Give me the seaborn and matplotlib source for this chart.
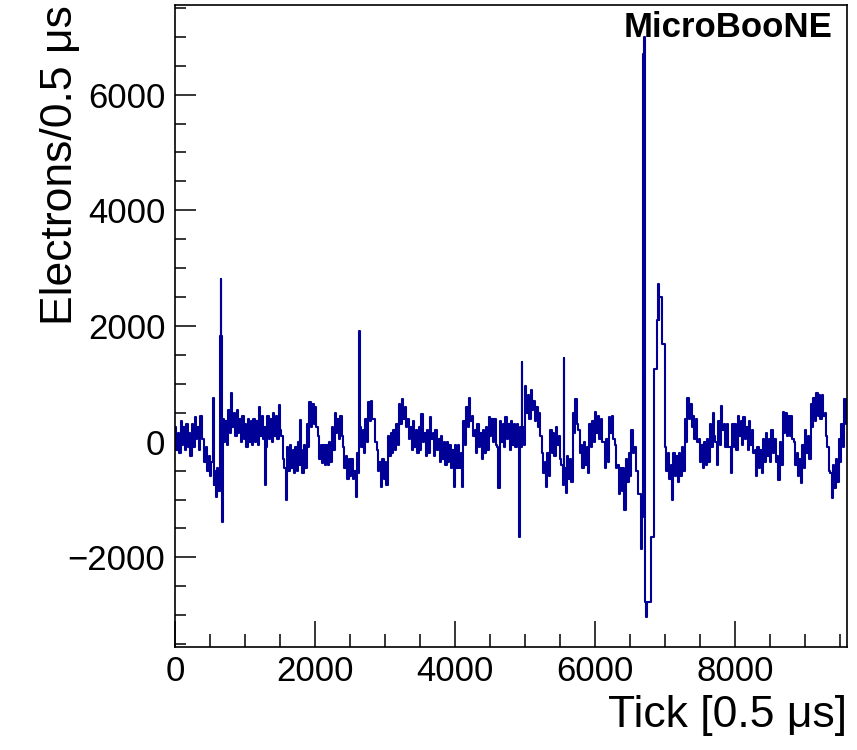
import numpy as np
import pandas as pd
import matplotlib
matplotlib.use("Agg")
import matplotlib.pyplot as plt
import seaborn as sns
from matplotlib.ticker import MultipleLocator

# waveform: one value per 20-tick bin (20 bins per row = 400 ticks)
BIN = 20
electrons = [
    250, -150, 150, -200, 350, -50, 250, -150, 300, -100, 150, -250, 300, -100, 430, 50, 250, -150, 440, 50,                      # 0-400
    50, -350, -100, -500, -250, -600, -350, -750, -500, -950, -450, -850, 1830, 1830, 400, 0, 350, -50, 550, 150,                 # 400-800
    850, 250, 500, 100, 550, 150, 400, 0, 450, 50, 300, -100, 400, 0, 350, -50, 400, 0, 350, -50,                                 # 800-1200
    600, 100, 450, 50, 250, -100, 450, 50, 400, 0, 500, 100, 450, 50, 640, 200, 100, -300, -450, -1000,                           # 1200-1600
    -100, -500, -50, -450, -150, -550, -100, -500, 0, -400, -150, -550, -50, -450, 300, -100, 680, 250, 650, 300,                 # 1600-2000
    600, 250, 100, -300, -50, -370, -50, -400, -50, -400, 0, -350, 250, -150, 500, 150, 400, 50, 450, 100,                        # 2000-2400
    -100, -450, -250, -650, -300, -600, -300, -650, -500, -950, -200, -550, 250, -100, 200, -200, 400, 0, 680, 350,               # 2400-2800
    700, 400, 400, 0, -150, -500, -350, -780, -300, -650, -350, -750, 100, -250, 150, -190, 200, -150, 300, -50,                  # 2800-3200
    650, 300, 730, 400, 600, 250, 400, 50, 250, -150, 350, -100, 200, -200, 250, -150, 470, 0, 150, -250,                         # 3200-3600
    200, -200, 420, 50, 150, -250, 200, -150, 50, -350, 100, -300, 0, -400, 0, -350, -50, -450, -150, -780,                       # 3600-4000
    -50, -450, -50, -450, -200, -780, 350, -50, 600, 250, 760, 350, 450, 100, 200, -200, 300, -100, 150, -300,                    # 4000-4400
    200, -200, 250, -150, 430, 100, 400, 0, 400, -50, -100, -800, 350, 0, 300, -100, 430, 50, 300, -140,                          # 4400-4800
    350, -50, 300, -100, 300, -50, 250, -100, 250, -50, 960, 500, 800, 400, 900, 550, 700, 350, 600, 250,                         # 4800-5200
    500, 100, -200, -550, -350, -780, -200, -600, 200, -200, 150, -250, 250, -50, 100, -300, -400, -750, -450, -890,              # 5200-5600
    -250, -650, -300, -700, 500, 150, 730, 300, 200, -200, -50, -450, 0, -400, -100, -540, 300, -100, 350, 0,                     # 5600-6000
    520, 150, 450, 50, 400, 0, 0, -450, 50, -350, 430, 150, 450, 50, -50, -450, -400, -900, -450, -850,                           # 6000-6400
    -450, -1180, -300, -700, -200, -600, 200, -200, -100, -500, -500, -900, -900, -1300, 6700, 6700, -2780, -2780, -2780, -2780,  # 6400-6800
    -1650, -1650, 1250, 1250, 2100, 2100, 2500, 2500, 1690, 1690, -100, -500, -200, -650, -400, -1000, -200, -600, -250, -700,    # 6800-7200
    -200, -600, -100, -500, 400, 0, 760, 400, 650, 250, 450, 50, 400, 0, 50, -350, -50, -450, 0, -400,                            # 7200-7600
    50, -350, 300, -100, 500, 100, 0, -400, 350, -50, 610, 200, 300, -100, 300, -100, -100, -550, 300, -100,                      # 7600-8000
    300, -150, 450, 100, 350, -50, 430, 50, 250, -150, 350, -50, 200, -200, -150, -600, -100, -450, -150, -550,                   # 8000-8400
    50, -350, 150, -250, 50, -350, 210, -200, 50, -350, -250, -660, 0, -400, 520, 150, 500, 100, 450, 100,                        # 8400-8800
    450, 50, 0, -400, -200, -600, -300, -710, -50, -450, 200, -200, 100, -300, 650, 250, 750, 350, 850, 450,                      # 8800-9200
    800, 400, 800, 450, 500, 100, -100, -500, -550, -970, -400, -800, -300, -700, 50, -350, 300, -100, 730, 300,                  # 9200-9600
]

# narrow single-tick spikes (10 ticks wide)
spike_tick = [540, 650, 670, 1290, 1790, 2630, 4920, 4950, 5550, 6660, 6700, 6730, 6900]
spike_value = [760, 2820, -1390, -750, 380, 1910, -1650, 1370, 1440, -1860, 7000, -3030, 2730]

bin_start = np.arange(0, BIN * len(electrons), BIN)
step = dict(zip(bin_start.tolist(), electrons))
for t, v in zip(spike_tick, spike_value):
    step.setdefault(t + 10, electrons[(t + 10) // BIN])
    step[t] = v
step[BIN * len(electrons)] = electrons[-1]

df = pd.DataFrame(sorted(step.items()), columns=["tick", "electrons"])

sns.set_theme(style="ticks")
plt.rcParams["font.family"] = ["Liberation Sans", "DejaVu Sans"]
plt.rcParams["text.color"] = "black"
plt.rcParams["axes.labelcolor"] = "black"

fig = plt.figure(figsize=(8.57, 7.5), dpi=100)
ax = fig.add_axes([175 / 857, 103 / 750, 672 / 857, 642 / 750])

sns.lineplot(data=df, x="tick", y="electrons", drawstyle="steps-post",
             estimator=None, sort=True, color="#000096", linewidth=1.5, ax=ax)

ax.set_xlim(0, 9600)
ax.set_ylim(-3550, 7550)

ax.xaxis.set_major_locator(MultipleLocator(2000))
ax.xaxis.set_minor_locator(MultipleLocator(500))
ax.yaxis.set_major_locator(MultipleLocator(2000))
ax.yaxis.set_minor_locator(MultipleLocator(500))

ax.tick_params(which="both", bottom=True, left=True, top=False, right=False,
               direction="in", width=1.1, color="black", labelcolor="black")
ax.tick_params(axis="x", which="major", length=19, labelsize=25, pad=6)
ax.tick_params(axis="x", which="minor", length=9.5)
ax.tick_params(axis="y", which="major", length=15, labelsize=25, pad=7)
ax.tick_params(axis="y", which="minor", length=8)

for side in ax.spines.values():
    side.set_linewidth(1.2)
    side.set_color("black")

ax.set_xlabel("Tick [0.5 \u03bcs]", fontsize=32, loc="right")
ax.set_ylabel("Electrons/0.5 \u03bcs", fontsize=32, loc="top")
ax.xaxis.set_label_coords(1.0, -0.075)
ax.yaxis.set_label_coords(-0.14, 1.0)

ax.text(0.979, 0.99, "MicroBooNE", transform=ax.transAxes, ha="right", va="top",
        fontsize=25, fontweight="bold", color="black", zorder=5)

fig.savefig("out.png", dpi=100)
